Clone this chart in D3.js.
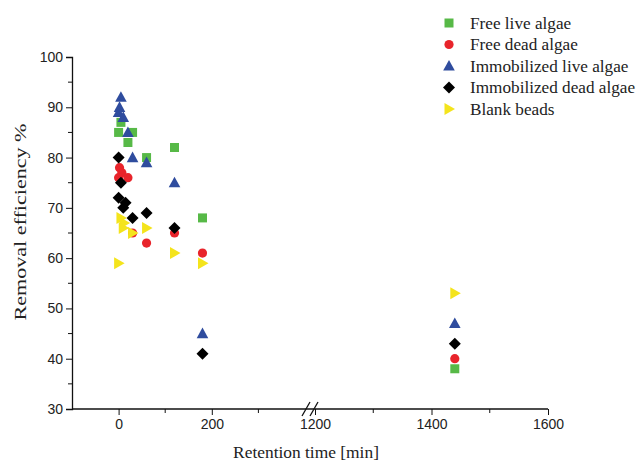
<!DOCTYPE html>
<html lang="en">
<head>
<meta charset="utf-8">
<title>removal efficiency</title>
<script src="https://cdn.jsdelivr.net/npm/d3@7"></script>
<style>
  body{ margin:0; background:#fff; }
  .tick text{ font-family:"Liberation Sans",Arial,sans-serif; font-size:14px; fill:#222; }
  .lab{ font-family:"Liberation Serif","Times New Roman",serif; font-size:17.4px; fill:#222; }
  .leg{ font-family:"Liberation Serif","Times New Roman",serif; font-size:17.2px; fill:#222; }
</style>
</head>
<body>
<div id="chart"></div>
<script>
// data: [time in min, removal %]
var freeLive = [[0,85],[5,87],[30,85],[20,83],[60,80],[120,82],[180,68],[1440,38]]
var freeDead = [[2,78],[7,77],[0,76],[20,76],[30,65],[60,63],[120,65],[180,61],[1440,40]]
var immLive = [[0,89],[2,90],[5,92],[10,88],[20,85],[30,80],[60,79],[120,75],[180,45],[1440,47]]
var immDead = [[0,80],[5,75],[0,72],[10,70],[15,71],[30,68],[60,69],[120,66],[180,41],[1440,43]]
var blank = [[0,59],[5,68],[12,67],[10,66],[30,65],[60,66],[120,61],[180,59],[1440,53]]

var seriesNames = ["Free live algae","Free dead algae","Immobilized live algae","Immobilized dead algae","Blank beads"]
var seriesData = [freeLive,freeDead,immLive,immDead,blank]
var colors = ["#57b947","#e8242b","#2f4c9e","#000000","#f4e41c"]
var shapes = ["square","circle","triangle","diamond","right"]

var xMajor = [0,200,1200,1400,1600]
var xMinor = [100,300,1300,1500]
var yMajor = [30,40,50,60,70,80,90,100]
var yMinor = [35,45,55,65,75,85,95]

var w = 638, h = 463
var svg = d3.select("#chart").append("svg").attr("width",w).attr("height",h)

// broken axis: piecewise linear scale, gap between 400 and 1200
var x = d3.scaleLinear().domain([-100,400,1200,1600]).range([72,305,315,548])
var y = d3.scaleLinear().domain([30,100]).range([409,57])

function symbolPath(s){
  if(s=="square") return "M-4.5,-4.5H4.5V4.5H-4.5Z"
  if(s=="circle") return "M4.6,0A4.6,4.6 0 1,1 -4.6,0A4.6,4.6 0 1,1 4.6,0Z"
  if(s=="triangle") return "M0,-6L5.8,4.6H-5.8Z"
  if(s=="diamond") return "M0,-6L6,0L0,6L-6,0Z"
  return "M-4.5,-6L6,0L-4.5,6Z"
}

// y axis
var yAx = svg.append("g").attr("transform","translate(72,0)")
yAx.call(d3.axisLeft(y).tickValues(yMajor).tickSize(6).tickPadding(3).tickFormat(d3.format("d")))
yAx.selectAll(".tick line").attr("stroke","#111")
yAx.select(".domain").attr("stroke","#111").attr("stroke-width",1.3)
yAx.selectAll(".minor").data(yMinor).enter().append("line")
  .attr("x1",0).attr("x2",-4).attr("y1",function(d){return y(d)}).attr("y2",function(d){return y(d)})
  .attr("stroke","#111")

// x axis
var xAx = svg.append("g").attr("transform","translate(0,409)")
xAx.call(d3.axisBottom(x).tickValues(xMajor).tickSize(6).tickPadding(4).tickFormat(d3.format("d")))
xAx.select(".domain").attr("d","M72,0H548").attr("stroke","#111").attr("stroke-width",1.3)
xAx.selectAll(".tick line").attr("stroke","#111")
xAx.selectAll(".minor").data(xMinor).enter().append("line")
  .attr("x1",function(d){return x(d)}).attr("x2",function(d){return x(d)}).attr("y1",0).attr("y2",4)
  .attr("stroke","#111")
// break marks
var bx = (x(400)+x(1200))/2
xAx.selectAll(".brk").data([-4,4]).enter().append("line")
  .attr("x1",function(d){return bx+d-4}).attr("x2",function(d){return bx+d+4})
  .attr("y1",7).attr("y2",-7).attr("stroke","#111").attr("stroke-width",1.3)

// points
seriesData.forEach(function(data,i){
  svg.append("g").selectAll("path").data(data).enter().append("path")
    .attr("d",symbolPath(shapes[i]))
    .attr("transform",function(d){return "translate("+x(d[0])+","+y(d[1])+")"})
    .attr("fill",colors[i])
})

// axis titles
svg.append("text").attr("class","lab").attr("x",306).attr("y",458).attr("text-anchor","middle")
  .text("Retention time [min]")
svg.append("text").attr("class","lab").attr("text-anchor","middle")
  .attr("transform","translate(26,222) rotate(-90) scale(1.27,1)").text("Removal efficiency %")

// legend
var leg = svg.append("g")
seriesNames.forEach(function(n,i){
  var ly = 23 + i*21.5
  leg.append("path").attr("d",symbolPath(shapes[i])).attr("fill",colors[i])
    .attr("transform","translate(449,"+ly+")")
  leg.append("text").attr("class","leg").attr("x",470).attr("y",ly+5.5).text(n)
})
</script>
</body>
</html>
